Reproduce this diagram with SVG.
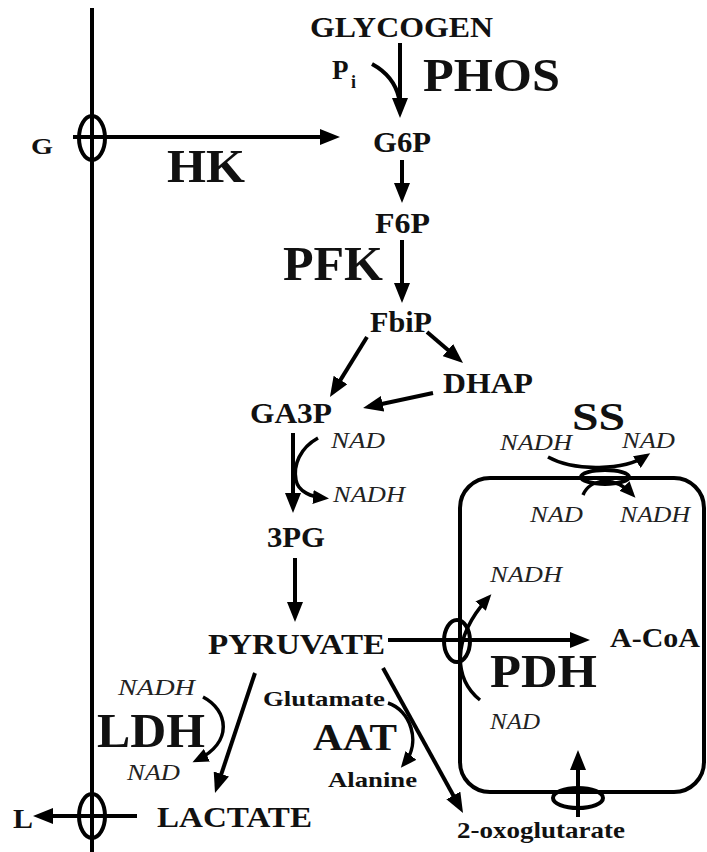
<svg xmlns="http://www.w3.org/2000/svg" width="707" height="852" viewBox="0 0 707 852">
<style>
.b{font-family:"Liberation Serif","Times New Roman",serif;font-weight:bold;fill:#111}
.i{font-family:"Liberation Serif","Times New Roman",serif;font-style:italic;fill:#222;font-size:23px}
.ln{stroke:#000;stroke-width:4;fill:none}
.ar{stroke:#000;stroke-width:4;fill:none;marker-end:url(#ah)}
.ar2{stroke:#000;stroke-width:3.5;fill:none;marker-end:url(#ah2)}
.tp{stroke:#000;stroke-width:4;fill:none}
</style>
<defs>
<marker id="ah" markerUnits="userSpaceOnUse" markerWidth="22" markerHeight="16" refX="14" refY="8" orient="auto">
<path d="M0,0 L20,8 L0,16 z" fill="#000"/>
</marker>
<marker id="ah2" markerUnits="userSpaceOnUse" markerWidth="18" markerHeight="14" refX="11" refY="7" orient="auto">
<path d="M0,0 L16,7 L0,14 z" fill="#000"/>
</marker>
</defs>
<rect width="707" height="852" fill="#fff"/>

<g id="membrane">
<line class="ln" x1="92" y1="8" x2="92" y2="852"/>
<rect id="mitochondrion" class="ln" x="460" y="478" width="244" height="314" rx="30"/>
</g>

<g id="connectors">
<line class="ar" x1="73" y1="137" x2="334" y2="137"/>
<line class="ar" x1="400" y1="43" x2="400" y2="112"/>
<path class="ln" d="M372,64 Q394,76 399,98"/>
<line class="ar" x1="402" y1="160" x2="402" y2="197"/>
<line class="ar" x1="402" y1="240" x2="402" y2="297"/>
<line class="ar" x1="367" y1="337" x2="333.1" y2="391.9"/>
<line class="ar" x1="427" y1="332" x2="458.5" y2="359.1"/>
<line class="ar" x1="433" y1="393" x2="368.9" y2="406.7"/>
<line class="ar" x1="293" y1="433" x2="293" y2="507"/>
<path class="ar2" d="M318,438 C300,448 293,465 296,480 C298,492 312,497 324,498"/>
<line class="ar" x1="295" y1="558" x2="295" y2="616"/>
<line class="ar" x1="388" y1="640" x2="584" y2="640"/>
<line class="ar" x1="255" y1="673" x2="216.9" y2="787.3"/>
<path class="ar2" d="M203,697 C228,710 234,742 197,760"/>
<line class="ar" x1="383" y1="668" x2="460.1" y2="807.7"/>
<path class="ar2" d="M388,703 C410,710 422,742 404,764"/>
<line class="ar" x1="137" y1="816" x2="39" y2="816"/>
<path class="ar2" d="M480,700 C455,680 450,640 488,598"/>
<path class="ar2" d="M548,457 C575,472 625,470 646,456"/>
<path class="ar2" d="M583,495 C590,478 615,476 632,494"/>
<line class="ar" x1="578" y1="817" x2="578" y2="756"/>
</g>

<g id="transporters">
<ellipse class="tp" cx="92" cy="138" rx="13" ry="22"/>
<ellipse class="tp" cx="92" cy="816" rx="13" ry="22"/>
<ellipse class="tp" cx="457" cy="641" rx="13" ry="21"/>
<ellipse class="tp" cx="605" cy="477" rx="24" ry="7"/>
<ellipse class="tp" cx="578" cy="798" rx="25" ry="10"/>
</g>

<g id="glycogen"><text class="b" x="310" y="37" font-size="30" textLength="183" lengthAdjust="spacingAndGlyphs">GLYCOGEN</text></g>
<g id="pi"><text class="b" x="332" y="79" font-size="27">P</text><text class="b" x="351" y="88" font-size="18">i</text></g>
<g id="phos"><text class="b" x="423" y="91" font-size="46" textLength="137" lengthAdjust="spacingAndGlyphs">PHOS</text></g>
<g id="g"><text class="b" x="31" y="154" font-size="23" textLength="22" lengthAdjust="spacingAndGlyphs">G</text></g>
<g id="hk"><text class="b" x="167" y="182" font-size="46" textLength="78" lengthAdjust="spacingAndGlyphs">HK</text></g>
<g id="g6p"><text class="b" x="373" y="152" font-size="30" textLength="58" lengthAdjust="spacingAndGlyphs">G6P</text></g>
<g id="f6p"><text class="b" x="375" y="233" font-size="30" textLength="55" lengthAdjust="spacingAndGlyphs">F6P</text></g>
<g id="pfk"><text class="b" x="283" y="280" font-size="48" textLength="100" lengthAdjust="spacingAndGlyphs">PFK</text></g>
<g id="fbip"><text class="b" x="370" y="332" font-size="30" textLength="62" lengthAdjust="spacingAndGlyphs">FbiP</text></g>
<g id="dhap"><text class="b" x="443" y="393" font-size="30" textLength="90" lengthAdjust="spacingAndGlyphs">DHAP</text></g>
<g id="ga3p"><text class="b" x="250" y="423" font-size="30" textLength="82" lengthAdjust="spacingAndGlyphs">GA3P</text></g>
<g id="nad-gapdh"><text class="i" x="331" y="448" textLength="54" lengthAdjust="spacingAndGlyphs">NAD</text></g>
<g id="nadh-gapdh"><text class="i" x="333" y="502" textLength="72" lengthAdjust="spacingAndGlyphs">NADH</text></g>
<g id="3pg"><text class="b" x="267" y="547" font-size="30" textLength="58" lengthAdjust="spacingAndGlyphs">3PG</text></g>
<g id="pyruvate"><text class="b" x="208" y="654" font-size="30" textLength="177" lengthAdjust="spacingAndGlyphs">PYRUVATE</text></g>
<g id="acoa"><text class="b" x="610" y="647" font-size="27" textLength="90" lengthAdjust="spacingAndGlyphs">A-CoA</text></g>
<g id="pdh"><text class="b" x="490" y="687" font-size="46" textLength="107" lengthAdjust="spacingAndGlyphs">PDH</text></g>
<g id="nadh-pdh"><text class="i" x="490" y="582" textLength="72" lengthAdjust="spacingAndGlyphs">NADH</text></g>
<g id="nad-pdh"><text class="i" x="490" y="729" textLength="50" lengthAdjust="spacingAndGlyphs">NAD</text></g>
<g id="ss"><text class="b" x="572" y="430" font-size="40" textLength="53" lengthAdjust="spacingAndGlyphs">SS</text></g>
<g id="nadh-ss-out"><text class="i" x="500" y="450" textLength="72" lengthAdjust="spacingAndGlyphs">NADH</text></g>
<g id="nad-ss-out"><text class="i" x="622" y="448" textLength="53" lengthAdjust="spacingAndGlyphs">NAD</text></g>
<g id="nad-ss-in"><text class="i" x="530" y="522" textLength="53" lengthAdjust="spacingAndGlyphs">NAD</text></g>
<g id="nadh-ss-in"><text class="i" x="620" y="522" textLength="70" lengthAdjust="spacingAndGlyphs">NADH</text></g>
<g id="nadh-ldh"><text class="i" x="118" y="695" textLength="77" lengthAdjust="spacingAndGlyphs">NADH</text></g>
<g id="ldh"><text class="b" x="97" y="747" font-size="48" textLength="108" lengthAdjust="spacingAndGlyphs">LDH</text></g>
<g id="nad-ldh"><text class="i" x="127" y="780" textLength="53" lengthAdjust="spacingAndGlyphs">NAD</text></g>
<g id="lactate"><text class="b" x="157" y="827" font-size="30" textLength="155" lengthAdjust="spacingAndGlyphs">LACTATE</text></g>
<g id="l"><text class="b" x="13" y="828" font-size="27" textLength="20" lengthAdjust="spacingAndGlyphs">L</text></g>
<g id="glutamate"><text class="b" x="263" y="706" font-size="21" textLength="122" lengthAdjust="spacingAndGlyphs">Glutamate</text></g>
<g id="aat"><text class="b" x="313" y="750" font-size="38" textLength="84" lengthAdjust="spacingAndGlyphs">AAT</text></g>
<g id="alanine"><text class="b" x="328" y="787" font-size="21" textLength="89" lengthAdjust="spacingAndGlyphs">Alanine</text></g>
<g id="oxoglutarate"><text class="b" x="457" y="838" font-size="23" textLength="168" lengthAdjust="spacingAndGlyphs">2-oxoglutarate</text></g>
</svg>
